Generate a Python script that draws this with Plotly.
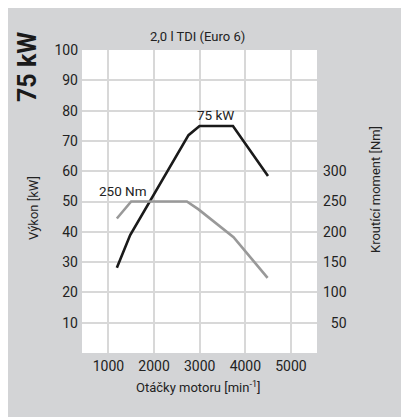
import plotly.graph_objects as go

# Data
power_rpm = [1184, 1476, 2754, 2996, 3728, 4496]
power_kw = [28.1, 38.9, 71.9, 74.9, 74.9, 58.4]
torque_rpm = [1184, 1498, 2718, 2974, 3741, 4487]
torque_nm = [222, 250, 250, 237, 191, 124]
x_ticks = [1000, 2000, 3000, 4000, 5000]
left_ticks = [10, 20, 30, 40, 50, 60, 70, 80, 90, 100]
right_ticks = [50, 100, 150, 200, 250, 300]

# page has an 8px body margin; figure drawn at offset (8, 8)
OFF = 8
W, H = 409 - OFF, 417 - OFF
ML, MT = 82 - OFF, 50 - OFF
MR, MB = W - (317 - OFF), H - (353 - OFF)
PW, PH = W - ML - MR, H - MT - MB


def px(x):
    return (x - OFF - ML) / PW


def py(y):
    return (H - MB - (y - OFF)) / PH


FONT = "Roboto"
TXT = "#222222"
GRAY_BG = "#d3d4d6"
GRID = "#d8d8d8"

fig = go.Figure()
fig.add_trace(go.Scatter(x=torque_rpm, y=torque_nm, mode="lines", yaxis="y2",
                         line=dict(color="#999999", width=2.6), showlegend=False,
                         hoverinfo="skip"))
fig.add_trace(go.Scatter(x=power_rpm, y=power_kw, mode="lines",
                         line=dict(color="#1a1a1a", width=2.6), showlegend=False,
                         hoverinfo="skip"))


def ann(text, x, y, size=13, angle=0, color=TXT, ref="paper"):
    if ref == "paper":
        x, y = px(x), py(y)
        xr, yr = "paper", "paper"
    else:
        xr, yr = "x", "y"
    return dict(text=text, x=x, y=y, xref=xr, yref=yr, showarrow=False,
                xanchor="center", yanchor="middle", textangle=angle,
                font=dict(size=size, color=color))


TICKFONT = dict(size=14, color=TXT)

fig.update_layout(
    template="none",
    width=W, height=H,
    margin=dict(l=ML, r=MR, t=MT, b=MB, pad=0, autoexpand=False),
    paper_bgcolor=GRAY_BG, plot_bgcolor="white",
    font=dict(family=FONT, size=13, color=TXT),
    xaxis=dict(range=[420, 5570], tickvals=x_ticks, showgrid=True,
               gridcolor=GRID, gridwidth=1.5, zeroline=False, showline=False,
               ticks="", ticklabelstandoff=3, tickfont=TICKFONT),
    yaxis=dict(range=[0, 100], tickvals=left_ticks, showgrid=True,
               gridcolor=GRID, gridwidth=1.5, zeroline=False, showline=False,
               ticks="", ticklabelstandoff=3, tickfont=TICKFONT),
    yaxis2=dict(range=[0, 500], overlaying="y", side="right", tickvals=right_ticks,
                ticktext=["\u2007" + str(v) if v < 100 else str(v) for v in right_ticks],
                showgrid=False, zeroline=False, showline=False, ticks="",
                ticklabelstandoff=5, tickfont=TICKFONT),
    annotations=[
        ann("2,0 l TDI (Euro 6)", 197, 36),
        ann("<b>75 kW</b>", 27, 67, size=25, angle=-90, color="#1a1a1a"),
        ann("Výkon [kW]", 33, 208, angle=-90),
        ann("Kroutící moment [Nm]", 375, 190, angle=-90),
        ann("Otáčky motoru [min<sup>-1</sup>]", 198, 387),
        ann("75 kW", 3340, 78.5, ref="data", size=13.5),
        ann("250 Nm", 1322, 53.5, ref="data", size=13.5),
    ],
)

fig.write_html("out.html")
